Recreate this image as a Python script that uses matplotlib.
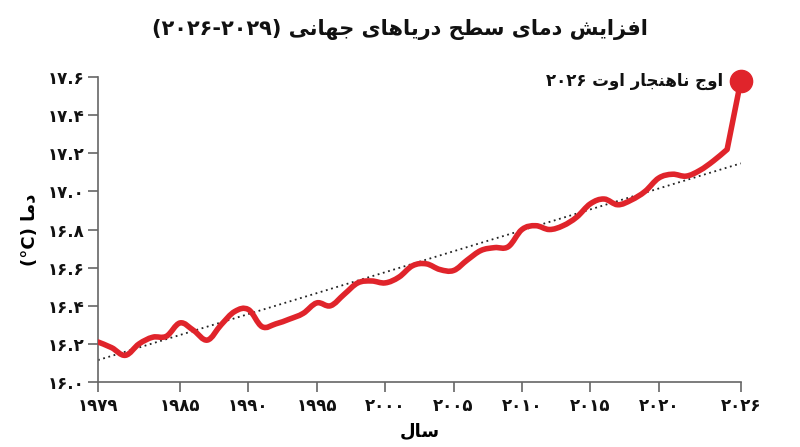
import numpy as np
import matplotlib
matplotlib.use('Agg')
import matplotlib.pyplot as plt
from matplotlib.path import Path
from matplotlib.patches import PathPatch

# Data
years = list(range(1979, 2027))
temps = [16.21, 16.18, 16.14, 16.20, 16.235, 16.24, 16.31, 16.27, 16.22, 16.30,
         16.37, 16.38, 16.29, 16.305, 16.33, 16.36, 16.415, 16.40, 16.46, 16.52,
         16.53, 16.52, 16.55, 16.61, 16.62, 16.59, 16.585, 16.64, 16.69, 16.705,
         16.71, 16.80, 16.82, 16.80, 16.82, 16.865, 16.935, 16.96, 16.93, 16.955,
         17.00, 17.07, 17.09, 17.08, 17.11, 17.16, 17.22, 17.58]
trend_years = [1979, 2026]
trend_vals = [16.115, 17.147]
xticks = [1979, 1985, 1990, 1995, 2000, 2005, 2010, 2015, 2020, 2026]
yticks = [16.0, 16.2, 16.4, 16.6, 16.8, 17.0, 17.2, 17.4, 17.6]

RED = '#e0242b'

# Arabic letter forms: isolated, final, initial, medial
FORMS = {
    'ا': ('\uFE8D', '\uFE8E', None, None),
    'ت': ('\uFE95', '\uFE96', '\uFE97', '\uFE98'),
    'ج': ('\uFE9D', '\uFE9E', '\uFE9F', '\uFEA0'),
    'ح': ('\uFEA1', '\uFEA2', '\uFEA3', '\uFEA4'),
    'د': ('\uFEA9', '\uFEAA', None, None),
    'ر': ('\uFEAD', '\uFEAE', None, None),
    'ز': ('\uFEAF', '\uFEB0', None, None),
    'س': ('\uFEB1', '\uFEB2', '\uFEB3', '\uFEB4'),
    'ش': ('\uFEB5', '\uFEB6', '\uFEB7', '\uFEB8'),
    'ط': ('\uFEC1', '\uFEC2', '\uFEC3', '\uFEC4'),
    'ف': ('\uFED1', '\uFED2', '\uFED3', '\uFED4'),
    'ل': ('\uFEDD', '\uFEDE', '\uFEDF', '\uFEE0'),
    'م': ('\uFEE1', '\uFEE2', '\uFEE3', '\uFEE4'),
    'ن': ('\uFEE5', '\uFEE6', '\uFEE7', '\uFEE8'),
    'ه': ('\uFEE9', '\uFEEA', '\uFEEB', '\uFEEC'),
    'و': ('\uFEED', '\uFEEE', None, None),
    'ی': ('\uFBFC', '\uFBFD', '\uFBFE', '\uFBFF'),
}


def fa(text):
    # shape letters and put them in visual (left-to-right) order
    out = []
    for i, c in enumerate(text):
        if c not in FORMS:
            out.append(c)
            continue
        prev = text[i - 1] if i > 0 else None
        nxt = text[i + 1] if i + 1 < len(text) else None
        jp = prev in FORMS and FORMS[prev][2] is not None
        jn = nxt in FORMS and FORMS[c][2] is not None
        iso, fin, ini, med = FORMS[c]
        if jp and jn:
            out.append(med)
        elif jp:
            out.append(fin)
        elif jn:
            out.append(ini)
        else:
            out.append(iso)
    return ''.join(out)[::-1]


def fa_digits(s):
    return s.translate(str.maketrans('0123456789', '۰۱۲۳۴۵۶۷۸۹'))


def smooth_path(x, y, k=0.18):
    # cubic bezier segments through the data points (catmull-rom style),
    # the last jump is kept straight
    x = np.asarray(x, float)
    y = np.asarray(y, float)
    n = len(x)
    verts = [(x[0], y[0])]
    codes = [Path.MOVETO]
    for i in range(n - 1):
        p0 = i - 1 if i > 0 else i
        c1 = (x[i] + k * (x[i + 1] - x[p0]), y[i] + k * (y[i + 1] - y[p0]))
        if i + 1 == n - 1:
            c1 = (x[i], y[i])
            c2 = (x[i + 1], y[i + 1])
        elif i + 1 == n - 2:
            c2 = (x[i + 1] - 2 * k * (x[i + 1] - x[i]), y[i + 1] - 2 * k * (y[i + 1] - y[i]))
        else:
            c2 = (x[i + 1] - k * (x[i + 2] - x[i]), y[i + 1] - k * (y[i + 2] - y[i]))
        verts += [c1, c2, (x[i + 1], y[i + 1])]
        codes += [Path.CURVE4] * 3
    return Path(verts, codes)


plt.rcParams['font.family'] = ['DejaVu Sans']
plt.rcParams['font.weight'] = 'bold'

fig = plt.figure(figsize=(8, 4.47), dpi=100)
ax = fig.add_axes([0.1225, 0.1454, 0.8035, 0.6823])

ax.plot(trend_years, trend_vals, color='#222222', linestyle=(0, (1, 2)), linewidth=1.3)
ax.add_patch(PathPatch(smooth_path(years, temps), facecolor='none', edgecolor=RED,
                       linewidth=4, joinstyle='round', capstyle='round', zorder=3))
ax.plot(years[-1], temps[-1], 'o', color=RED, markersize=16, clip_on=False, zorder=5)

ax.annotate(fa_digits('2026 ') + fa('اوج ناهنجار اوت'), xy=(years[-1], temps[-1]),
            xytext=(-13, 0), textcoords='offset points', ha='right', va='center',
            fontsize=12, fontweight='bold', color='#111111')

ax.set_xlim(1979, 2026)
ax.set_ylim(16.0, 17.6)
ax.set_xticks(xticks)
ax.set_xticklabels([fa_digits(str(y)) for y in xticks], fontsize=12, fontweight='bold')
ax.set_yticks(yticks)
ax.set_yticklabels([fa_digits('%.1f' % v) for v in yticks], fontsize=12, fontweight='bold')

for side in ['top', 'right']:
    ax.spines[side].set_visible(False)
for side in ['left', 'bottom']:
    ax.spines[side].set_color('#666666')
    ax.spines[side].set_linewidth(1.2)
ax.tick_params(direction='out', length=7, width=1.2, color='#666666', labelcolor='#111111')
ax.tick_params(axis='x', pad=4)
ax.tick_params(axis='y', pad=3)

ax.set_xlabel(fa('سال'), fontsize=13, fontweight='bold', labelpad=5)
ax.set_ylabel('(°C) ' + fa('دما'), fontsize=13, fontweight='bold', labelpad=6)

fig.text(0.5, 0.935, '(' + fa_digits('2026-2029') + ') ' + fa('افزایش دمای سطح دریاهای جهانی'),
         ha='center', va='center', fontsize=15, fontweight='bold', color='#111111')

fig.savefig('out.png', dpi=100, facecolor='white')
